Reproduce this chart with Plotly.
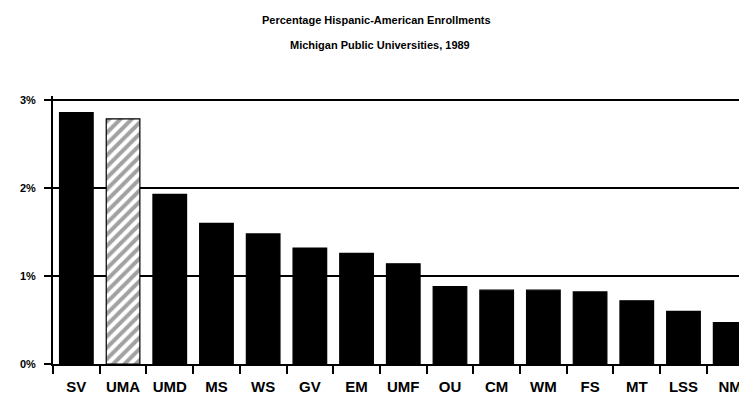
import plotly.graph_objects as go

categories = ["SV", "UMA", "UMD", "MS", "WS", "GV", "EM", "UMF", "OU", "CM", "WM", "FS", "MT", "LSS", "NM"]
values = [2.86, 2.79, 1.93, 1.60, 1.48, 1.32, 1.26, 1.14, 0.88, 0.84, 0.84, 0.82, 0.72, 0.60, 0.47]
highlight = "UMA"
y_ticks = [0, 1, 2, 3]
y_tick_labels = ["0%", "1%", "2%", "3%"]

fills = ["white" if c == highlight else "black" for c in categories]
shapes = ["/" if c == highlight else "" for c in categories]

fig = go.Figure(go.Bar(
    x=categories, y=values,
    width=0.72,
    marker=dict(
        color=fills,
        line=dict(color="black", width=1.2),
        pattern=dict(shape=shapes, fgcolor="black", bgcolor="white", size=8, solidity=0.5),
    ),
))

font_family = "Liberation Sans, Arial, sans-serif"
# the page body adds an 8px margin; figure coordinates are screen minus 8
OFF = 8
W, H = 747 - OFF, 402 - OFF
L, R, T, B = 53 - OFF, 0, 88, 38
pw, ph = W - L - R, H - T - B

def px_x(x):
    return (x - OFF - L) / pw

def px_y(y):
    return (H - (y - OFF) - B) / ph

fig.update_layout(
    width=W, height=H,
    margin=dict(l=L, r=R, t=T, b=B, autoexpand=False),
    paper_bgcolor="white", plot_bgcolor="white",
    showlegend=False,
    font=dict(family=font_family, color="black"),
    annotations=[
        dict(text="<b>Percentage Hispanic-American Enrollments</b>", x=px_x(376), y=px_y(20),
             xref="paper", yref="paper", xanchor="center", yanchor="middle",
             showarrow=False, font=dict(size=11)),
        dict(text="<b>Michigan Public Universities, 1989</b>", x=px_x(380), y=px_y(45),
             xref="paper", yref="paper", xanchor="center", yanchor="middle",
             showarrow=False, font=dict(size=11)),
    ],
)

fig.update_xaxes(
    range=[-0.5, 14.36],
    automargin=False,
    showline=True, linecolor="black", linewidth=2,
    ticks="outside", tickson="boundaries", ticklen=8, tickwidth=1.5, tickcolor="black",
    tickfont=dict(size=15, family=font_family),
    ticktext=["<b>" + c + "</b>" for c in categories], tickvals=categories,
    ticklabelstandoff=8,
    showgrid=False,
)
fig.update_yaxes(
    range=[0, 3.05],
    automargin=False,
    tickvals=y_ticks, ticktext=["<b>" + t + "</b>" for t in y_tick_labels],
    showline=True, linecolor="black", linewidth=2,
    ticks="outside", ticklen=7, tickwidth=1.5, tickcolor="black",
    tickfont=dict(size=11, family=font_family),
    ticklabelstandoff=6,
    showgrid=True, gridcolor="black", gridwidth=1.8,
    zeroline=False,
)

fig.write_html("out.html")
